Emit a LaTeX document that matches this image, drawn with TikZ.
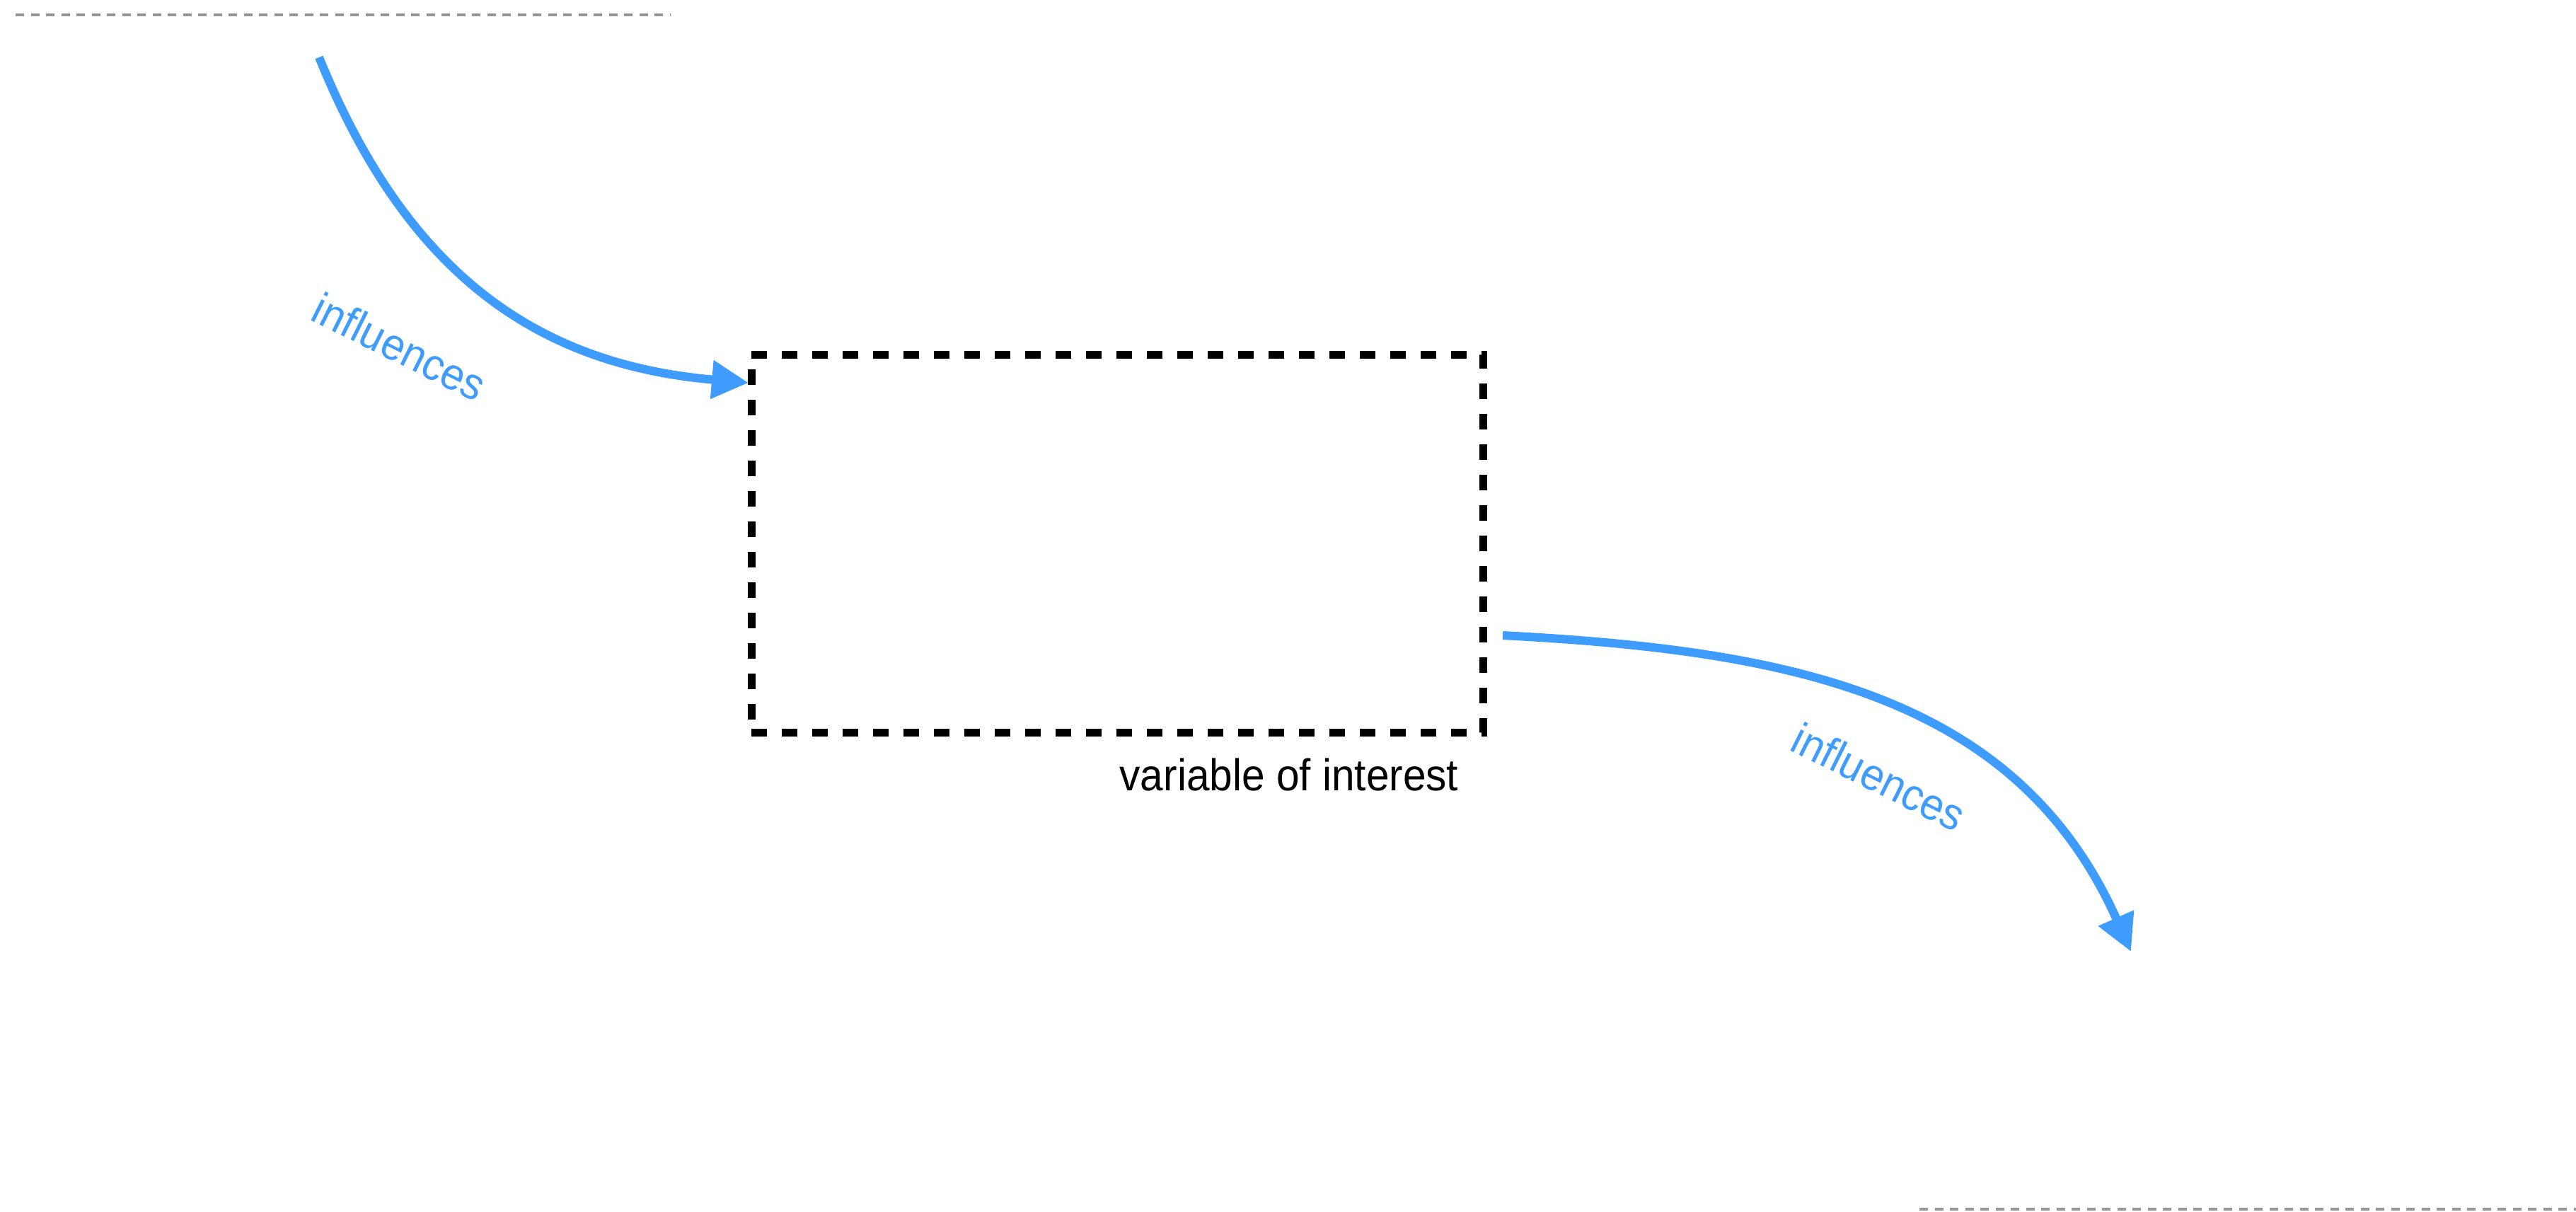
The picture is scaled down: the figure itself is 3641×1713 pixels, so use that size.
\documentclass[tikz,border=0pt]{standalone}
\usepackage{fontspec}
\setmainfont{Liberation Sans}
\newfontfamily\lblfont[FakeStretch=0.93]{Liberation Sans}
\usetikzlibrary{arrows.meta}
\definecolor{flowblue}{RGB}{61,156,254}
\definecolor{guidegray}{RGB}{150,150,150}
\begin{document}
\begin{tikzpicture}[x=0.5pt,y=-0.5pt,
  flow/.style={draw=flowblue,line width=6pt,-{Triangle[length=26pt,width=26pt]}},
  flowlabel/.style={text=flowblue,font=\lblfont\fontsize{31.5pt}{38pt}\selectfont,inner sep=0pt,rotate=-26.5},
  voibox/.style={draw=black,line width=5.5pt,dash pattern=on 11pt off 10.5pt,minimum width=517pt,minimum height=267pt,inner sep=0pt},
  voilabel/.style={text=black,font=\lblfont\fontsize{31.5pt}{38pt}\selectfont,inner sep=0pt},
  guide/.style={draw=guidegray,line width=2.2pt,dash pattern=on 6pt off 4.75pt}]
\useasboundingbox (0,0) rectangle (3641,1713);
% guide lines
\coordinate (gtl) at (22,21);
\coordinate (gtr) at (947,21);
\coordinate (gbl) at (2713,1709);
\coordinate (gbr) at (3641,1709);
\draw[guide] (gtl) -- (gtr);
\draw[guide] (gbl) -- (gbr);
% box
\node[voibox] (voi) at (1579,768) {};
\node[voilabel] (voitext) at (1822,1095) {variable of interest};
% arrows
\coordinate (src) at (451,81);
\coordinate (inpt) at (1058,541);
\coordinate (outpt) at (2124,898);
\coordinate (dst) at (3012,1345);
\draw[flow] (src) .. controls (575,387) and (759,515) .. (inpt);
\draw[flow] (outpt) .. controls (2523,919) and (2849,979) .. (dst);
\node[flowlabel] (lab1) at (565,490) {influences};
\node[flowlabel] (lab2) at (2656,1098) {influences};
\end{tikzpicture}
\end{document}
